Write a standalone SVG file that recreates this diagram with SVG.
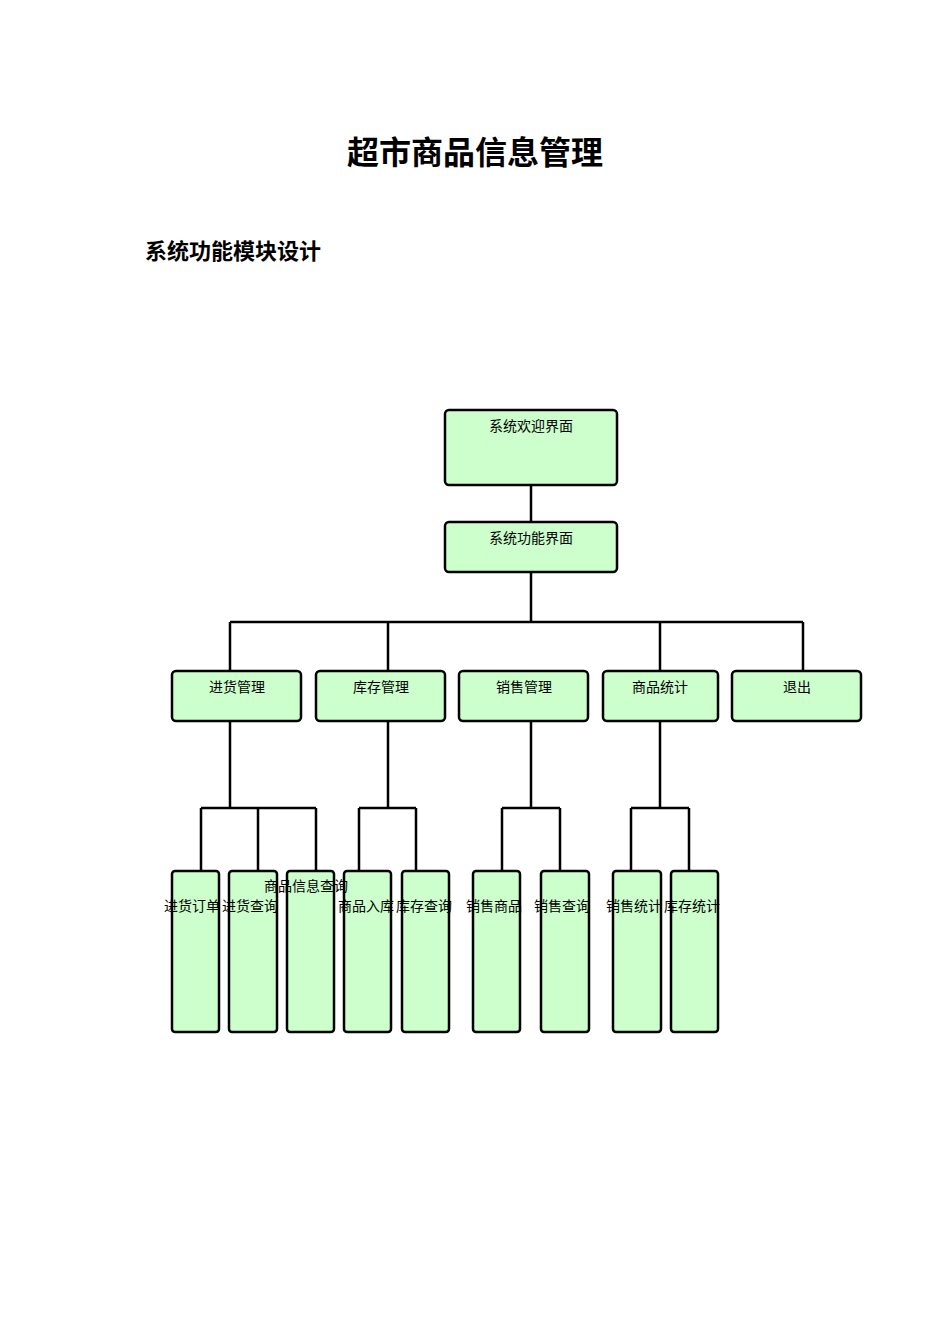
<svg xmlns="http://www.w3.org/2000/svg" width="950" height="1344" viewBox="0 0 950 1344">
<style>
.b{fill:#ccffcc;stroke:#000;stroke-width:2.5}
.t{font-family:"Liberation Serif","Noto Sans CJK SC",serif;font-size:14px;fill:#000}
.c{fill:none;stroke:#000;stroke-width:2.5}
</style>
<rect width="950" height="1344" fill="#fff"/>
<text x="475" y="164" text-anchor="middle" style="font-family:'Noto Sans CJK SC',sans-serif;font-size:32px;font-weight:bold">超市商品信息管理</text>
<text x="145" y="259" style="font-family:'Noto Sans CJK SC',sans-serif;font-size:22px;font-weight:bold">系统功能模块设计</text>
<g id="connectors">
<path class="c" d="M531 485V522M531 572V622M230 622H803M230 622V671M388 622V671M660 622V671M803 622V671"/>
<path class="c" d="M230 721V808M201 808H316M201 808V871M258 808V871M316 808V871"/>
<path class="c" d="M388 721V808M359 808H416M359 808V871M416 808V871"/>
<path class="c" d="M531 721V808M502 808H560M502 808V871M560 808V871"/>
<path class="c" d="M660 721V808M631 808H689M631 808V871M689 808V871"/>
</g>
<g id="n1"><rect class="b" x="445" y="410" width="172" height="75" rx="4"/><text class="t" x="531" y="431" text-anchor="middle">系统欢迎界面</text></g>
<g id="n2"><rect class="b" x="445" y="522" width="172" height="50" rx="4"/><text class="t" x="531" y="543" text-anchor="middle">系统功能界面</text></g>
<g id="n3"><rect class="b" x="172" y="671" width="129" height="50" rx="4"/><text class="t" x="237" y="692" text-anchor="middle">进货管理</text></g>
<g id="n4"><rect class="b" x="316" y="671" width="129" height="50" rx="4"/><text class="t" x="381" y="692" text-anchor="middle">库存管理</text></g>
<g id="n5"><rect class="b" x="459" y="671" width="129" height="50" rx="4"/><text class="t" x="524" y="692" text-anchor="middle">销售管理</text></g>
<g id="n6"><rect class="b" x="603" y="671" width="115" height="50" rx="4"/><text class="t" x="660" y="692" text-anchor="middle">商品统计</text></g>
<g id="n7"><rect class="b" x="732" y="671" width="129" height="50" rx="4"/><text class="t" x="797" y="692" text-anchor="middle">退出</text></g>
<g id="l1"><rect class="b" x="172" y="871" width="47" height="161" rx="3"/></g>
<g id="l2"><rect class="b" x="229" y="871" width="48" height="161" rx="3"/></g>
<g id="l3"><rect class="b" x="287" y="871" width="47" height="161" rx="3"/></g>
<g id="l4"><rect class="b" x="344" y="871" width="47" height="161" rx="3"/></g>
<g id="l5"><rect class="b" x="402" y="871" width="47" height="161" rx="3"/></g>
<g id="l6"><rect class="b" x="473" y="871" width="47" height="161" rx="3"/></g>
<g id="l7"><rect class="b" x="541" y="871" width="48" height="161" rx="3"/></g>
<g id="l8"><rect class="b" x="613" y="871" width="48" height="161" rx="3"/></g>
<g id="l9"><rect class="b" x="671" y="871" width="47" height="161" rx="3"/></g>
<g id="labels">
<text class="t" x="164" y="911">进货订单</text>
<text class="t" x="222" y="911">进货查询</text>
<text class="t" x="264" y="891">商品信息查询</text>
<text class="t" x="338" y="911">商品入库</text>
<text class="t" x="396" y="911">库存查询</text>
<text class="t" x="466" y="911">销售商品</text>
<text class="t" x="534" y="911">销售查询</text>
<text class="t" x="606" y="911">销售统计</text>
<text class="t" x="664" y="911">库存统计</text>
</g>
</svg>
